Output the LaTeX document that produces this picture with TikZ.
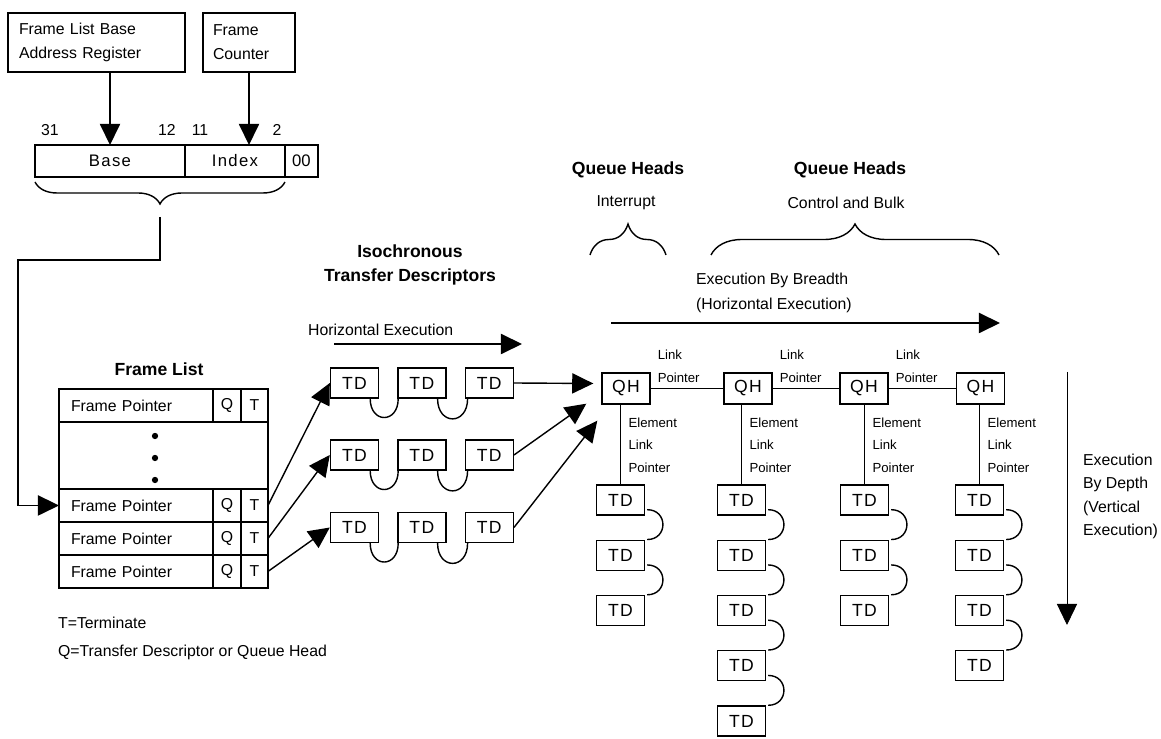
\documentclass[tikz,border=0pt]{standalone}
\usepackage{fontspec}
\setmainfont{Liberation Sans}
\newfontfamily\spacedfont[LetterSpace=8]{Liberation Sans}
\usetikzlibrary{arrows.meta, positioning, decorations.pathreplacing, calc}

\begin{document}
\begin{tikzpicture}[
  x=0.02cm, y=-0.02cm,
  every node/.style={font=\fontsize{9}{13.6}\selectfont, inner sep=1pt},
  regbox/.style={draw, line width=0.8pt, align=left, minimum height=1.18cm},
  field/.style={draw, line width=0.8pt, minimum height=0.64cm, outer sep=0pt, font=\spacedfont\fontsize{9.5}{11}\selectfont},
  cell/.style={draw, line width=0.8pt, minimum height=0.66cm, outer sep=0pt},
  namecell/.style={cell, minimum width=3.08cm, text width=2.6cm, align=left},
  qcell/.style={cell, minimum width=0.56cm},
  tcell/.style={cell, minimum width=0.54cm},
  tdbox/.style={draw, line width=0.8pt, minimum width=0.96cm, minimum height=0.6cm, font=\spacedfont\fontsize{10}{12}\selectfont},
  qhbox/.style={tdbox, minimum height=0.62cm},
  title/.style={font=\fontsize{10}{13.6}\selectfont\bfseries, align=center},
  small/.style={font=\fontsize{7.5}{13}\selectfont, align=left},
  bigarr/.style={line width=0.8pt, -{Triangle[length=12pt, width=11.5pt]}},
  link/.style={line width=0.8pt}
]
\useasboundingbox (0,0) rectangle (1161,739);

% address register
\node[regbox, minimum width=3.54cm, text width=3.1cm] (flbar) at (96.5,42.5) {Frame List Base\\Address Register};
\node[regbox, minimum width=1.84cm, text width=1.44cm] (fcount) at (249,42.5) {Frame\\Counter};

\node (bit31) at (50,130) {31};
\node (bit12) at (167,130) {12};
\node (bit11) at (200,130) {11};
\node (bit2) at (277,130) {2};

\node[field, minimum width=3.0cm] (base) at (110,161) {Base};
\node[field, minimum width=2.0cm, right=0pt of base] (index) {Index};
\node[field, minimum width=0.66cm, right=0pt of index, font=\fontsize{9.5}{11}\selectfont] (zz) {00};

\draw[bigarr] (flbar.south -| base.north) -- (base.north);
\draw[bigarr] (fcount.south) -- (fcount.south |- index.north);

\draw[link, decorate, decoration={brace, mirror, amplitude=0.44cm}]
  ($(base.south west)+(0,5)$) -- ($(index.south east)+(0,5)$);
\coordinate (regtip) at ($(base.south west)!0.5!(index.south east)+(0,40)$);
\coordinate (bend) at (18,260);

% frame list
\node[title] (fltitle) at (159,369) {Frame List};
\node[namecell] (fp0) at (136,405.5) {Frame Pointer};
\node[qcell, right=0pt of fp0] (q0) {Q};
\node[tcell, right=0pt of q0] (t0) {T};
\node[cell, minimum width=4.18cm, minimum height=1.34cm, below=0pt of fp0.south west, anchor=north west] (gap) {};
\foreach \dy in {436,458,480}
  \fill (155,\dy) circle[radius=1.8pt];
\node[namecell, below=0pt of gap.south west, anchor=north west] (fp1) {Frame Pointer};
\node[namecell, below=0pt of fp1] (fp2) {Frame Pointer};
\node[namecell, below=0pt of fp2] (fp3) {Frame Pointer};
\foreach \i in {1,2,3} {
  \node[qcell, right=0pt of fp\i] (q\i) {Q};
  \node[tcell, right=0pt of q\i] (t\i) {T};
}

\draw[bigarr] (regtip) |- (bend) |- (fp1.west);

\node[anchor=west] (legT) at (56,623) {T=Terminate};
\node[anchor=west] (legQ) at (56,652) {Q=Transfer Descriptor or Queue Head};

% isochronous TDs
\node[title] (isotitle) at (410,265) {Isochronous\\Transfer Descriptors};
\node[anchor=west] (isohx) at (306,330) {Horizontal Execution};
\coordinate (isoS) at (334,344);
\coordinate (isoE) at (522,344);
\draw[bigarr] (isoS) -- (isoE);

\foreach \r/\y in {A/383,B/455,C/527.5} {
  \node[tdbox] (td\r1) at (354.5,\y) {TD};
  \node[tdbox, right=0.36cm of td\r1] (td\r2) {TD};
  \node[tdbox, right=0.36cm of td\r2] (td\r3) {TD};
  \draw[link] ($(td\r1.south east)+(-9,0)$) to[out=-90,in=-90,looseness=2.3] ($(td\r2.south west)+(1,0)$);
  \draw[link] ($(td\r2.south east)+(-9,0)$) to[out=-90,in=-90,looseness=2.3] ($(td\r3.south west)+(3,0)$);
}

\draw[bigarr] (t1.east) -- (tdA1.west);
\draw[bigarr] (t2.east) -- (tdB1.west);
\draw[bigarr] (t3.east) -- (tdC1.west);

% queue heads
\node[title] (qhint) at (628,170) {Queue Heads};
\node (intr) at (626,203) {Interrupt};
\node[title] (qhcb) at (850,170) {Queue Heads};
\node (cbulk) at (846,203) {Control and Bulk};
\draw[link, decorate, decoration={brace, amplitude=0.62cm}] (590,255) -- (666,255);
\draw[link, decorate, decoration={brace, amplitude=0.62cm}] (711,255) -- (999,255);

\node[anchor=north west, align=left, font=\fontsize{9}{14.2}\selectfont] (breadth) at (694,271) {Execution By Breadth\\(Horizontal Execution)};
\coordinate (brS) at (611,323);
\coordinate (brE) at (1000,323);
\draw[bigarr] (brS) -- (brE);

\foreach \c/\x in {1/626,2/748,3/864,4/980.5}
  \node[qhbox] (qh\c) at (\x,388.5) {QH};
\foreach \a/\b in {1/2,2/3,3/4} {
  \draw[link] (qh\a.east) -- (qh\b.west);
  \node[small, anchor=south west] (lp\a) at ($(qh\a.east)+(5,-4)$) {Link\\Pointer};
}

\coordinate (inA) at ($(qh1.west)+(-8,-5)$);
\coordinate (inB) at ($(qh1.south west)+(-15,-1)$);
\coordinate (inC) at ($(qh1.south west)+(-4,16)$);
\draw[bigarr] (tdA3.east) -- (inA);
\draw[bigarr] (tdB3.east) -- (inB);
\draw[bigarr] (tdC3.east) -- (inC);

\foreach \c/\x/\n in {1/620.5/3,2/741.5/5,3/864.5/3,4/979.5/4} {
  \foreach \r in {1,...,\n}
    \node[tdbox] (td\c-\r) at (\x,{500+55.25*(\r-1)}) {TD};
  \foreach \r in {2,...,\n} {
    \pgfmathtruncatemacro\p{\r-1}
    \draw[link] ($(td\c-\p.south east)+(2,-6)$) to[out=0,in=0,looseness=1.8] ($(td\c-\r.north east)+(2,0)$);
  }
  \draw[link] (td\c-1.north) -- (td\c-1.north |- qh\c.south);
  \node[small, anchor=north west, font=\fontsize{7.5}{12.75}\selectfont] (elp\c) at ($(td\c-1.north |- qh\c.south)+(6,11)$) {Element\\Link\\Pointer};
}

% depth
\coordinate (dpS) at (1067,372);
\coordinate (dpE) at (1067,625);
\draw[bigarr, line width=0.5pt] (dpS) -- (dpE);
\node[anchor=north west, align=left, font=\fontsize{9}{13.3}\selectfont] (depth) at (1081,452) {Execution\\By Depth\\(Vertical\\Execution)};
\end{tikzpicture}
\end{document}
